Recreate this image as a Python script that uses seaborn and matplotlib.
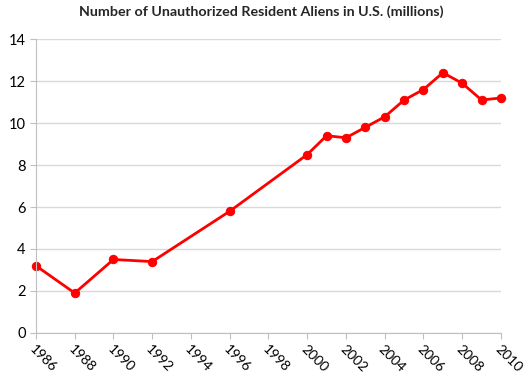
import pandas as pd
import matplotlib
matplotlib.use("Agg")
import matplotlib.pyplot as plt
import seaborn as sns

years = [1986, 1988, 1990, 1992, 1996, 2000, 2001, 2002, 2003, 2004, 2005, 2006, 2007, 2008, 2009, 2010]
aliens = [3.2, 1.9, 3.5, 3.4, 5.8, 8.5, 9.4, 9.3, 9.8, 10.3, 11.1, 11.6, 12.4, 11.9, 11.1, 11.2]
x_ticks = list(range(1986, 2011, 2))
y_ticks = list(range(0, 15, 2))

df = pd.DataFrame({"Year": years, "Millions": aliens})

sns.set_style("white")
plt.rcParams['font.family'] = ['Lato', 'DejaVu Sans']

fig = plt.figure(figsize=(5.29, 3.84), dpi=100)
ax = fig.add_axes([0.068, 0.133, 0.879, 0.765])

sns.lineplot(data=df, x="Year", y="Millions", color="#ff0000", linewidth=2,
             marker="o", markersize=6, markeredgecolor="#ff0000", ax=ax,
             clip_on=False)

ax.set_xlim(1986, 2010)
ax.set_ylim(0, 14)
ax.set_xticks(x_ticks)
ax.set_yticks(y_ticks)
ax.set_xticklabels([str(t) for t in x_ticks], rotation=-45, ha="left",
                   rotation_mode="anchor", fontsize=10)
ax.set_yticklabels([str(t) for t in y_ticks], fontsize=10.5)
ax.set_xlabel("")
ax.set_ylabel("")

ax.yaxis.grid(True, color="#d9d9d9", linewidth=1)
ax.set_axisbelow(True)
for s in ["top", "right"]:
    ax.spines[s].set_visible(False)
ax.spines["left"].set_color("#bfbfbf")
ax.spines["bottom"].set_color("#bfbfbf")
ax.tick_params(axis="both", which="both", length=4, color="#bfbfbf",
               direction="out", bottom=True, left=True, labelcolor="black")

fig.suptitle("Number of Unauthorized Resident Aliens in U.S. (millions)",
             fontsize=10.3, fontweight="bold", x=0.494, y=0.985)

fig.savefig("out.png", dpi=100)
